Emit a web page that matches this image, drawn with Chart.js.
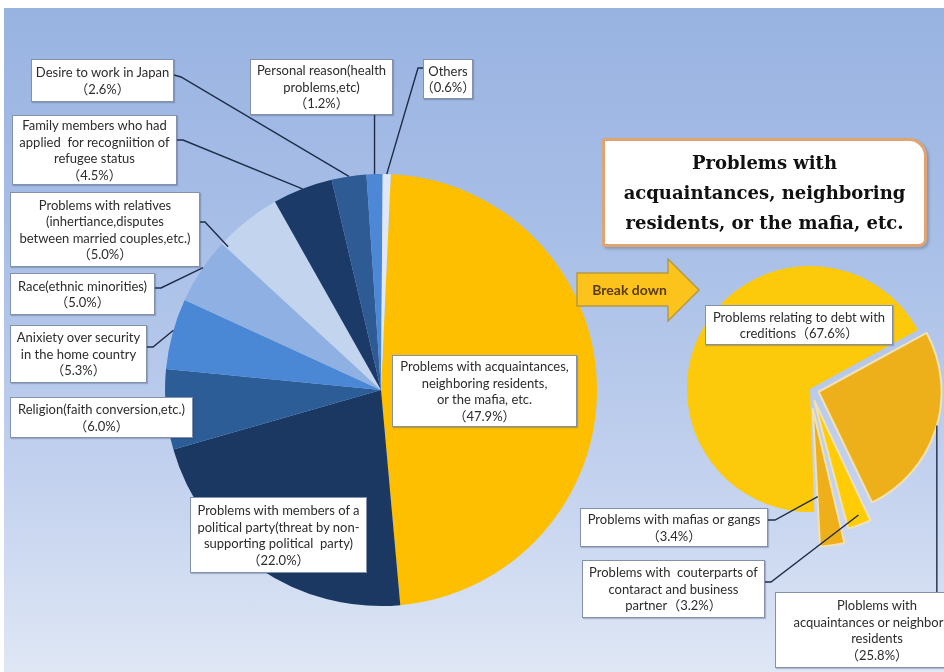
<!DOCTYPE html>
<html><head><meta charset="utf-8">
<script src="https://cdn.jsdelivr.net/npm/chart.js@4.4.1/dist/chart.umd.min.js"></script>
<style>
html,body{margin:0;padding:0;width:944px;height:672px;overflow:hidden;background:#fff;}
#bg{position:absolute;left:4px;top:8px;width:940px;height:664px;background:linear-gradient(180deg,#99b3e1 0%,#a8bfe7 35%,#c2d1ee 70%,#dfe7f5 100%);}
canvas{position:absolute;left:0;top:0;}
#arrow{position:absolute;left:0;top:0;pointer-events:none;}
.lbl{position:absolute;box-sizing:border-box;background:#fff;border:1px solid #8391ad;display:flex;align-items:center;justify-content:center;text-align:center;font-family:Lato,'Noto Sans CJK JP',sans-serif;font-size:13px;line-height:16.5px;color:#2c2c2c;white-space:pre;box-shadow:1px 1px 1px rgba(40,50,80,0.25);}
#title{position:absolute;left:602px;top:138px;width:325px;height:109px;box-sizing:border-box;border:3px solid #dfa472;border-radius:3px 18px 8px 3px;background:#fff;font-family:'DejaVu Serif',serif;font-weight:bold;font-size:18px;line-height:30px;text-align:center;display:flex;align-items:center;justify-content:center;color:#111;box-shadow:2px 2px 3px rgba(0,0,0,0.2);}
#brk{position:absolute;left:582px;top:280px;width:95px;height:20px;font-family:Lato,sans-serif;font-weight:bold;font-size:14px;line-height:20px;color:#5a3a12;text-align:center;}
</style></head>
<body>
<div id="bg"></div>
<canvas id="c1" width="944" height="672"></canvas>
<canvas id="c2" width="944" height="672"></canvas>
<svg id="arrow" width="944" height="672"><polygon points="577,273 668,273 668,259 699,290 668,321 668,306 577,306" fill="#fcc31d" stroke="#b59a45" stroke-width="1.5"/></svg>
<div id="brk">Break down</div>
<div id="labels"></div>
<div id="title">Problems with<br>acquaintances, neighboring<br>residents, or the mafia, etc.</div>
<script>
// ---- data ----
const mainCategories = [
  "Problems with acquaintances,\nneighboring residents,\nor the mafia, etc.",
  "Problems with members of a\npolitical party(threat by non-\nsupporting political  party)",
  "Religion(faith conversion,etc.)",
  "Anixiety over security\nin the home country",
  "Race(ethnic minorities)",
  "Problems with relatives\n(inhertiance,disputes\nbetween married couples,etc.)",
  "Family members who had\napplied  for recogniition of\nrefugee status",
  "Desire to work in Japan",
  "Personal reason(health\nproblems,etc)",
  "Others"
];
const mainValues = [47.9, 22.0, 6.0, 5.3, 5.0, 5.0, 4.5, 2.6, 1.2, 0.6];
const subCategories = [
  "Problems relating to debt with\ncreditions",
  "Ploblems with\nacquaintances or neighboring\nresidents",
  "Problems with  couterparts of\ncontaract and business\npartner",
  "Problems with mafias or gangs"
];
const subValues = [67.6, 25.8, 3.2, 3.4];

// ---- styles / layout ----
const mainColors = ['#fdbf00','#1a3862','#2d5d97','#4a87d5','#8eb0e2','#c3d4ee','#1c3a67','#2e5b94','#4c88d6','#dfe8f6'];
const subColors = ['#fdc90b','#eeb01a','#ffcc05','#eeaf1a'];
const subOffsets = [0, 36, 48, 78];

const mainLayout = [
  {box:[392,355,185,72]},
  {box:[190,497,177,76]},
  {box:[10,397,183,41]},
  {box:[10,325,137,58], lead:{frac:0.55, r:1, from:[[147,347],[153,347]]}},
  {box:[10,273,145,42], lead:{frac:0.55, r:1, from:[[155,288],[161,288]]}},
  {box:[10,192,190,75], lead:{frac:0.03, r:0.97, from:[[200,222],[205,222]]}},
  {box:[12,115,165,70], lead:{frac:0.5, r:1, from:[[177,140],[183,140]]}},
  {box:[31,59,143,43], lead:{frac:0.5, r:1, from:[[174,75],[181,77]]}},
  {box:[250,59,143,56], lead:{frac:0.5, r:1, vertical:115}},
  {box:[423,59,50,40], lead:{frac:0.5, r:1, from:[[423,68],[418,68]]}}
];
const subLayout = [
  {box:[705,305,188,40], inline:true},
  {box:[775,592,204,76], lead:{frac:0.48, r:1, vertical:592}},
  {box:[582,560,183,58], inline:true, lead:{frac:0.4, r:1, from:[[765,582],[771,582]]}},
  {box:[580,508,188,39], lead:{frac:0.9, r:0.72, from:[[768,520],[775,520]]}}
];

function pct(v){ return '（' + v.toFixed(1) + '%）'; }
function addLabels(cats, vals, layout){
  const host = document.getElementById('labels');
  cats.forEach((c,i)=>{
    const L = layout[i];
    const d = document.createElement('div');
    d.className = 'lbl';
    d.style.left = L.box[0]+'px'; d.style.top = L.box[1]+'px';
    d.style.width = L.box[2]+'px'; d.style.height = L.box[3]+'px';
    d.textContent = c + (L.inline ? '' : '\n') + pct(vals[i]);
    host.appendChild(d);
  });
}
addLabels(mainCategories, mainValues, mainLayout);
addLabels(subCategories, subValues, subLayout);

const leaderPlugin = {
  id: 'leaders',
  afterDatasetsDraw(chart, args, opts){
    const meta = chart.getDatasetMeta(0);
    const ctx = chart.ctx;
    ctx.save();
    ctx.strokeStyle = '#1e2c48';
    ctx.lineWidth = 1.4;
    opts.layout.forEach((L,i)=>{
      if(!L.lead) return;
      const el = meta.data[i];
      const p = el.getProps(['x','y','startAngle','endAngle','outerRadius'], true);
      const t = (el.options.offset || 0) / 4;
      const half = (p.startAngle + p.endAngle) / 2;
      const cx = p.x + Math.cos(half) * t, cy = p.y + Math.sin(half) * t;
      const a = p.startAngle + (p.endAngle - p.startAngle) * L.lead.frac;
      const px = cx + Math.cos(a) * p.outerRadius * L.lead.r;
      const py = cy + Math.sin(a) * p.outerRadius * L.lead.r;
      ctx.beginPath();
      if (L.lead.vertical !== undefined){
        ctx.moveTo(px, L.lead.vertical);
      } else {
        L.lead.from.forEach((q,k)=>{ if(k===0) ctx.moveTo(q[0],q[1]); else ctx.lineTo(q[0],q[1]); });
      }
      ctx.lineTo(px, py);
      ctx.stroke();
    });
    ctx.restore();
  }
};

const common = {
  responsive:false, animation:false, devicePixelRatio:1, events:[],
  plugins:{legend:{display:false}, tooltip:{enabled:false}}
};

new Chart(document.getElementById('c1'), {
  type:'pie',
  data:{labels: mainCategories, datasets:[{data: mainValues, backgroundColor: mainColors, borderWidth:0, hoverOffset:0, radius:216}]},
  options:Object.assign({}, common, {
    rotation: 2.6, radius: 216,
    layout:{padding:{left:0, right:182, top:108, bottom:0}},
    plugins:{legend:{display:false}, tooltip:{enabled:false}, leaders:{layout: mainLayout}}
  }),
  plugins:[leaderPlugin]
});

new Chart(document.getElementById('c2'), {
  type:'pie',
  data:{labels: subCategories, datasets:[{data: subValues, backgroundColor: subColors, borderColor:'#f1e2b6', borderWidth:[0,2,2,2], offset: subOffsets, hoverOffset:0, radius:123}]},
  options:Object.assign({}, common, {
    rotation: 178, radius: 123,
    layout:{padding:{left:676, right:0, top:106, bottom:0}},
    plugins:{legend:{display:false}, tooltip:{enabled:false}, leaders:{layout: subLayout}}
  }),
  plugins:[leaderPlugin]
});
</script>
</body></html>
